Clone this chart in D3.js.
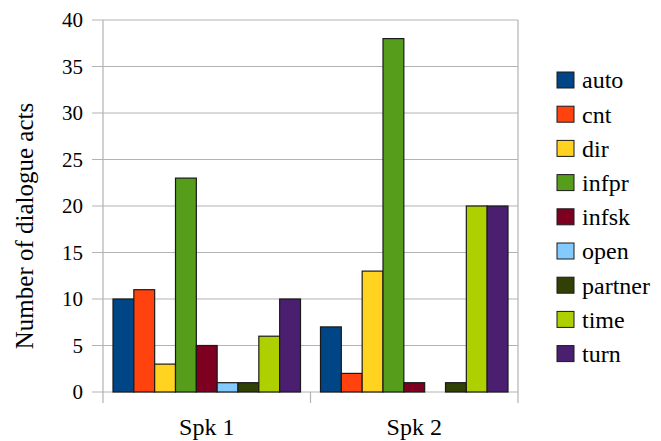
<!DOCTYPE html>
<html><head><meta charset="utf-8">
<script src="https://cdn.jsdelivr.net/npm/d3@7"></script>
<style>body{margin:0;background:#fff} svg text{font-family:"Liberation Serif","Times New Roman",Times,"Nimbus Roman","DejaVu Serif",serif;}</style>
</head><body>
<svg id="c" width="661" height="441"></svg>
<script>
const categories = ["Spk 1", "Spk 2"];
const seriesNames = ["auto","cnt","dir","infpr","infsk","open","partner","time","turn"];
const spk1 = [10, 11, 3, 23, 5, 1, 1, 6, 10];
const spk2 = [7, 2, 13, 38, 1, 0, 1, 20, 20];
const colors = ["#004586","#ff420e","#ffd320","#579d1c","#7e0021","#83caff","#314004","#aecf00","#4b1f6f"];
const yTicks = [0,5,10,15,20,25,30,35,40];

const values = [spk1, spk2];
const svg = d3.select("#c");
const L = 103, R = 518, T = 20, B = 392;

const x0 = d3.scaleBand().domain(categories).range([L, R]).paddingInner(0).paddingOuter(0);
const x1 = d3.scaleBand().domain(seriesNames).range([10, x0.bandwidth() - 10]).padding(0);
const y = d3.scaleLinear().domain([0, 40]).range([B, T]);

svg.append("g").selectAll("line").data(yTicks).join("line")
  .attr("x1", L - 11).attr("x2", R).attr("y1", d => y(d)).attr("y2", d => y(d))
  .attr("stroke", "#b3b3b3").attr("stroke-width", 1.2);
svg.append("line").attr("x1", L).attr("x2", L).attr("y1", T).attr("y2", B + 11).attr("stroke", "#b3b3b3").attr("stroke-width", 1.2);
svg.append("line").attr("x1", R).attr("x2", R).attr("y1", T).attr("y2", B + 11).attr("stroke", "#b3b3b3").attr("stroke-width", 1.2);
svg.append("g").selectAll("line").data(categories.slice(1)).join("line")
  .attr("x1", d => x0(d)).attr("x2", d => x0(d)).attr("y1", B).attr("y2", B + 11)
  .attr("stroke", "#b3b3b3").attr("stroke-width", 1.2);

svg.append("g").selectAll("text").data(yTicks).join("text")
  .attr("x", L - 20).attr("y", d => y(d)).attr("dy", "0.35em").attr("text-anchor", "end")
  .attr("font-size", 21).attr("fill", "#000").text(d => d);

categories.forEach((c, ci) => {
  svg.append("g").selectAll("rect").data(seriesNames.map((s, i) => ({s, v: values[ci][i], i})))
    .join("rect")
    .filter(d => d.v > 0)
    .attr("x", d => x0(c) + x1(d.s)).attr("width", x1.bandwidth())
    .attr("y", d => y(d.v)).attr("height", d => y(0) - y(d.v))
    .attr("fill", d => colors[d.i]).attr("stroke", "#1a1a1a").attr("stroke-width", 1.2);
});

svg.append("g").selectAll("text").data(categories).join("text")
  .attr("x", d => x0(d) + x0.bandwidth() / 2).attr("y", 435).attr("text-anchor", "middle")
  .attr("font-size", 24).attr("fill", "#000").text(d => d);

svg.append("text").attr("transform", "translate(33,226) rotate(-90)")
  .attr("text-anchor", "middle").attr("font-size", 25).attr("fill", "#000")
  .text("Number of dialogue acts");

const leg = svg.append("g").selectAll("g").data(seriesNames).join("g")
  .attr("transform", (d, i) => "translate(557," + (80 + i * 34.2) + ")");
leg.append("rect").attr("x", 0).attr("y", -8).attr("width", 17).attr("height", 16)
  .attr("fill", (d, i) => colors[i]).attr("stroke", "#1a1a1a").attr("stroke-width", 1);
leg.append("text").attr("x", 25).attr("y", 0).attr("dy", "0.35em")
  .attr("font-size", 24).attr("fill", "#000").text(d => d);
</script>
</body></html>
